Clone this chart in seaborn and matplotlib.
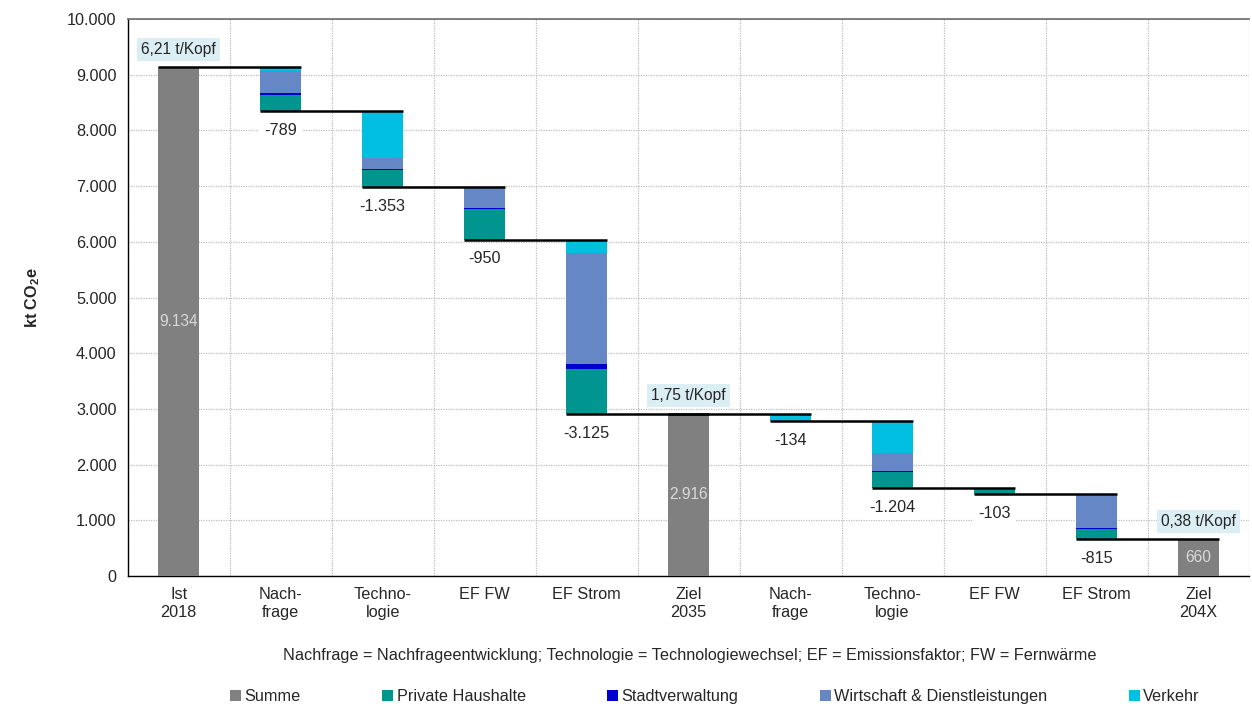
import numpy as np
import pandas as pd
import matplotlib
matplotlib.use("Agg")
import matplotlib.pyplot as plt
from matplotlib.ticker import FuncFormatter, FixedLocator
from matplotlib.patches import Patch
import seaborn as sns

# ---------------- data ----------------
categories = ["Ist 2018", "Nachfrage 1", "Technologie 1", "EF FW 1", "EF Strom 1",
              "Ziel 2035", "Nachfrage 2", "Technologie 2", "EF FW 2", "EF Strom 2", "Ziel 204X"]
tick_labels = ["Ist\n2018", "Nach-\nfrage", "Techno-\nlogie", "EF FW", "EF Strom",
               "Ziel\n2035", "Nach-\nfrage", "Techno-\nlogie", "EF FW", "EF Strom", "Ziel\n204X"]
is_total = [True, False, False, False, False, True, False, False, False, False, True]
summe = [9134, 0, 0, 0, 0, 2916, 0, 0, 0, 0, 660]
private_haushalte = [0, 299, 293, 540, 805, 0, 0, 293, 85, 183, 0]
stadtverwaltung = [0, 20, 25, 30, 85, 0, 0, 15, 3, 12, 0]
wirtschaft = [0, 400, 190, 380, 1985, 0, 0, 318, 15, 575, 0]
verkehr = [0, 70, 845, 0, 250, 0, 134, 578, 0, 45, 0]
delta_labels = ["", "-789", "-1.353", "-950", "-3.125", "", "-134", "-1.204", "-103", "-815", ""]
total_labels = ["9.134", "", "", "", "", "2.916", "", "", "", "", "660"]
per_capita = ["6,21 t/Kopf", "", "", "", "", "1,75 t/Kopf", "", "", "", "", "0,38 t/Kopf"]
series_names = ["Summe", "Private Haushalte", "Stadtverwaltung", "Wirtschaft & Dienstleistungen", "Verkehr"]
colors = {"Summe": "#808080", "Private Haushalte": "#00968F", "Stadtverwaltung": "#0000CC",
          "Wirtschaft & Dienstleistungen": "#6687C5", "Verkehr": "#00BFE0"}
footnote = "Nachfrage = Nachfrageentwicklung; Technologie = Technologiewechsel; EF = Emissionsfaktor; FW = Fernwärme"

# ---------------- waterfall levels ----------------
n = len(categories)
levels = []       # level after each column
bases = []        # bottom of each delta column
cur = 0
for i in range(n):
    if is_total[i]:
        cur = summe[i]
        bases.append(0)
    else:
        d = private_haushalte[i] + stadtverwaltung[i] + wirtschaft[i] + verkehr[i]
        cur = cur - d
        bases.append(cur)
    levels.append(cur)

sns.set_theme(style="white")
plt.rcParams["font.family"] = ["Liberation Sans", "DejaVu Sans"]
plt.rcParams["mathtext.fontset"] = "custom"
plt.rcParams["mathtext.rm"] = "Liberation Sans"
plt.rcParams["mathtext.bf"] = "Liberation Sans:bold"

FS = 11.7
fig, ax = plt.subplots(figsize=(12.52, 7.06), dpi=100)
fig.subplots_adjust(left=0.102, right=0.998, top=0.973, bottom=0.184)

W = 0.4
# totals
sns.barplot(x=categories, y=summe, order=categories, color=colors["Summe"], saturation=1,
            width=W, linewidth=0, ax=ax, zorder=3)
# stacked deltas
stack_series = [("Private Haushalte", private_haushalte), ("Stadtverwaltung", stadtverwaltung),
                ("Wirtschaft & Dienstleistungen", wirtschaft), ("Verkehr", verkehr)]
bottom = np.array(bases, dtype=float)
for name, vals in stack_series:
    v = np.array(vals, dtype=float)
    sns.barplot(x=categories, y=v, order=categories, color=colors[name], saturation=1,
                width=W, linewidth=0, ax=ax, bottom=bottom, zorder=3)
    bottom = bottom + v

# connectors
for i in range(n - 1):
    ax.hlines(levels[i], i - W / 2, i + 1 + W / 2, color="black", lw=1.8, zorder=5)

# labels
for i in range(n):
    if is_total[i]:
        ax.text(i, summe[i] / 2, total_labels[i], ha="center", va="center",
                color="#D9D9D9", fontsize=FS - 0.5, zorder=6)
        ax.annotate(per_capita[i], (i, summe[i]), xytext=(0, 13), textcoords="offset points",
                    ha="center", va="center", fontsize=FS - 0.5, zorder=6,
                    bbox=dict(boxstyle="square,pad=0.25", fc="#DAEEF3", ec="none"))
    else:
        ax.annotate(delta_labels[i], (i, levels[i]), xytext=(0, -14), textcoords="offset points",
                    ha="center", va="center", fontsize=FS, zorder=6,
                    bbox=dict(boxstyle="square,pad=0.3", fc="white", ec="none"))

# axes
ax.set_xlim(-0.5, n - 0.5)
ax.set_ylim(0, 10000)
ax.yaxis.set_major_locator(FixedLocator(np.arange(0, 10001, 1000)))
ax.yaxis.set_major_formatter(FuncFormatter(lambda v, p: f"{int(v):,}".replace(",", ".")))
ax.set_xticks(range(n))
ax.set_xticklabels(tick_labels, fontsize=FS)
ax.set_xticks(np.arange(-0.5, n, 1.0), minor=True)
ax.tick_params(axis="x", which="major", length=0, pad=8)
ax.tick_params(axis="x", which="minor", length=5, width=1, color="black", direction="out")
ax.tick_params(axis="y", which="major", length=4, width=1, color="black", direction="out",
               labelsize=FS, pad=4)
ax.set_xlabel("")
ax.set_ylabel(r"kt CO$_\mathbf{2}$e", fontsize=FS, fontweight="bold", labelpad=18)

ax.grid(False)
ax.yaxis.grid(True, which="major", color="#BFBFBF", linestyle=(0, (1, 1)), lw=0.9, zorder=0)
ax.xaxis.grid(True, which="minor", color="#BFBFBF", linestyle=(0, (1, 1)), lw=0.9, zorder=0)
ax.set_axisbelow(True)
for s in ["left", "bottom"]:
    ax.spines[s].set_color("black")
    ax.spines[s].set_linewidth(1.0)
ax.spines["top"].set_color("#707070")
ax.spines["right"].set_visible(False)

fig.text(0.551, 0.072, footnote, ha="center", va="center", fontsize=FS)

handles = [Patch(facecolor=colors[s], edgecolor="none") for s in series_names]
fig.legend(handles, series_names, loc="center", bbox_to_anchor=(0.571, 0.013), ncol=5,
           frameon=False, fontsize=FS, handlelength=0.7, handleheight=0.7,
           handletextpad=0.2, columnspacing=5.0)

fig.savefig("out.png", dpi=100)
